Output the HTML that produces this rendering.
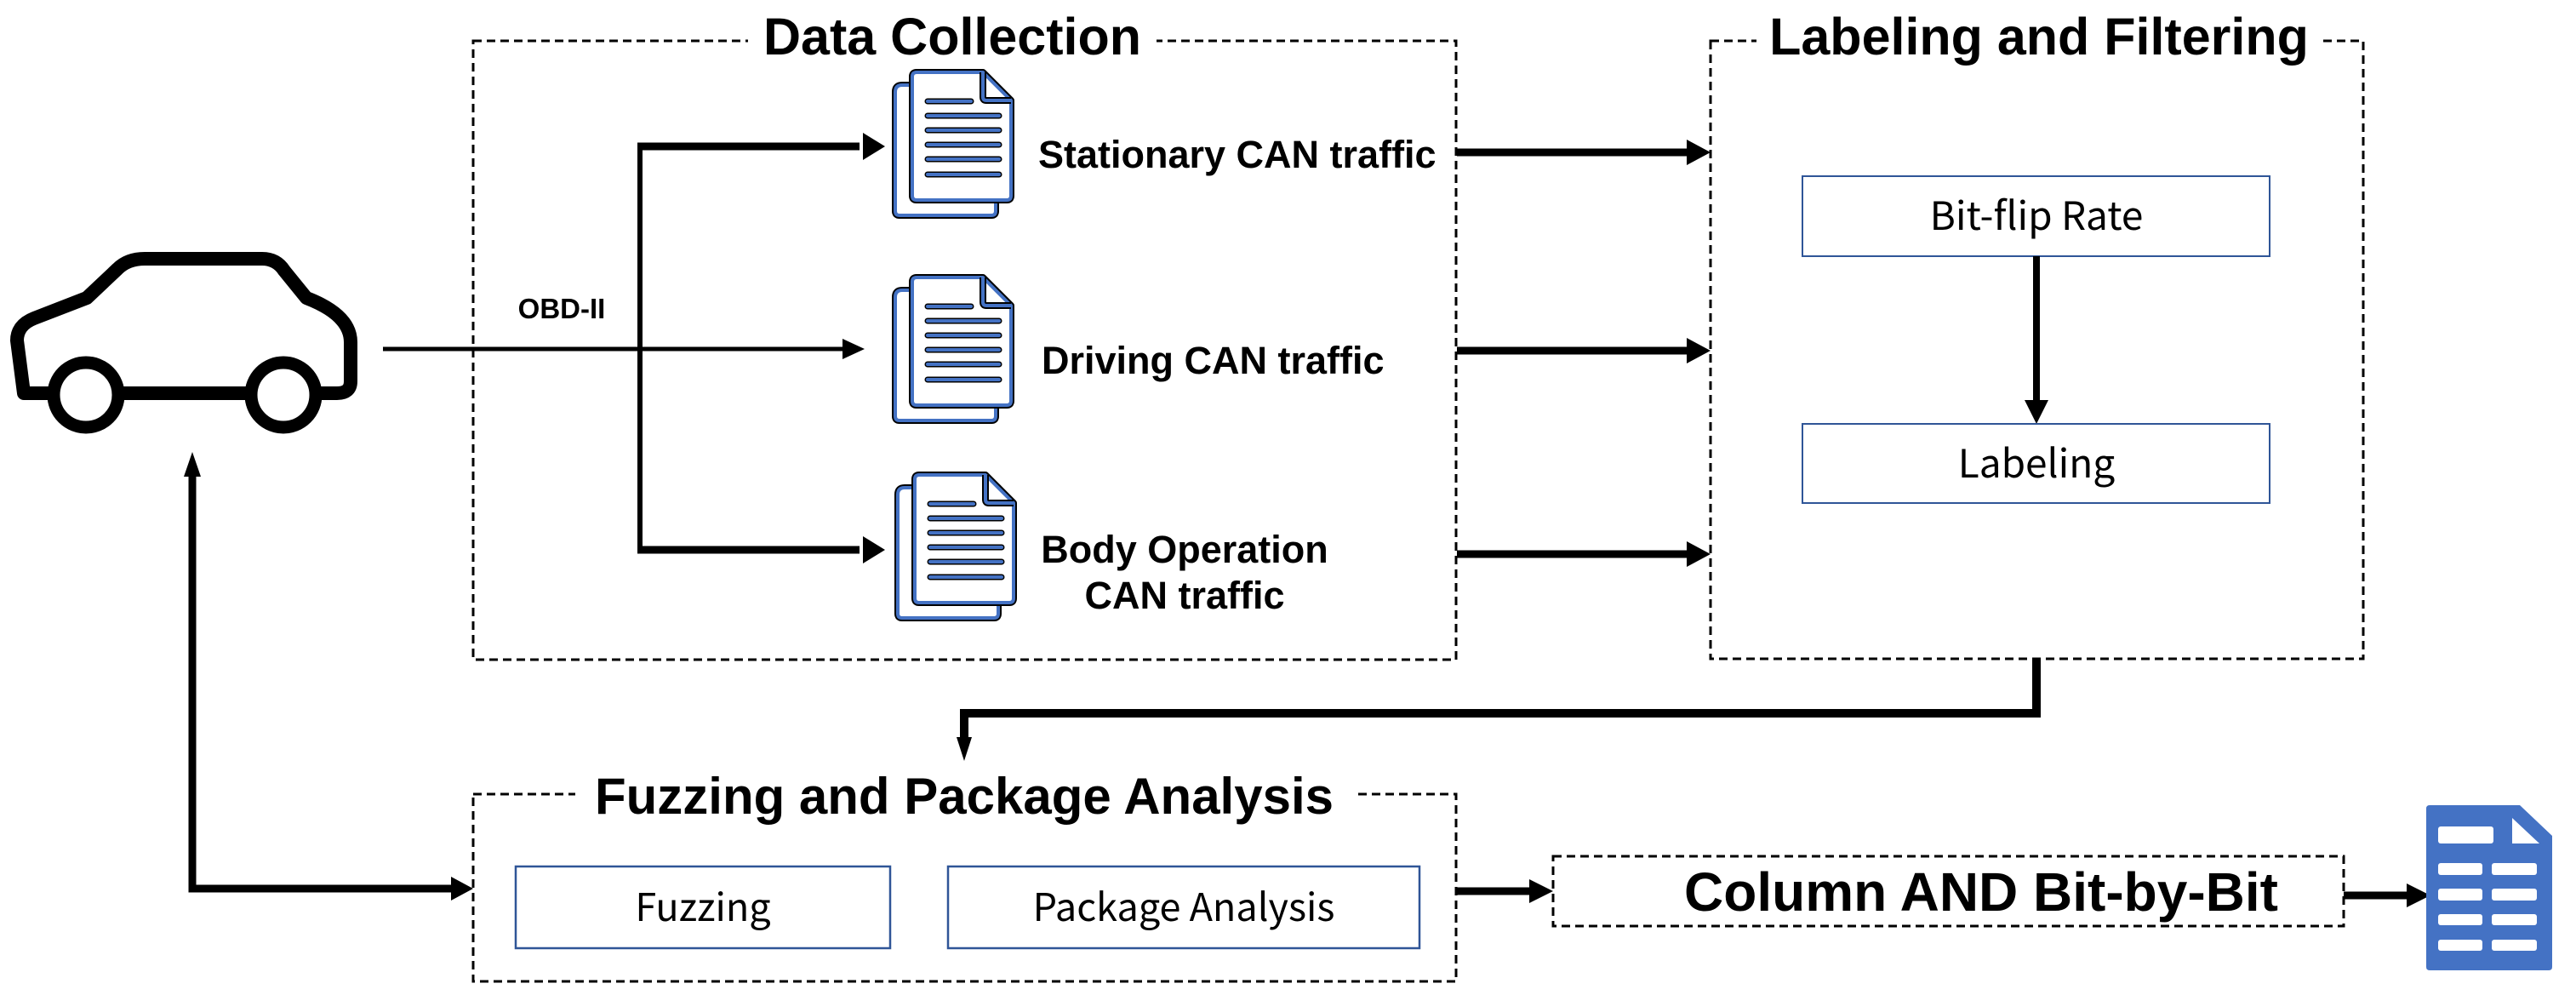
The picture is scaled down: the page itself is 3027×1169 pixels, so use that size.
<!DOCTYPE html>
<html><head><meta charset="utf-8"><style>
html,body{margin:0;padding:0;background:#fff;}
svg{display:block;}
.t{font-family:"Liberation Sans",Arial,sans-serif;font-weight:bold;fill:#000;}
.c{font-family:"Noto Sans CJK SC","Liberation Sans",sans-serif;fill:#000;}
</style></head><body>
<svg width="3027" height="1169" viewBox="0 0 3027 1169" xmlns="http://www.w3.org/2000/svg">
<defs>
<g id="doc">
  <path d="M12 28 Q12 20 20 20 L130 20 L130 168 Q130 173 125 173 L17 173 Q12 173 12 168 Z" fill="#fff" stroke="#000" stroke-width="8" stroke-linejoin="round"/>
  <path d="M12 28 Q12 20 20 20 L130 20 L130 168 Q130 173 125 173 L17 173 Q12 173 12 168 Z" fill="#fff" stroke="#4472c4" stroke-width="4" stroke-linejoin="round"/>
  <path d="M32 10 Q32 5 37 5 L115 5 L148 38 L148 150 Q148 155 143 155 L37 155 Q32 155 32 150 Z" fill="#fff" stroke="#000" stroke-width="8" stroke-linejoin="round"/>
  <path d="M32 10 Q32 5 37 5 L115 5 L148 38 L148 150 Q148 155 143 155 L37 155 Q32 155 32 150 Z" fill="#fff" stroke="#4472c4" stroke-width="4" stroke-linejoin="round"/>
  <path d="M115 5 L115 34 Q115 38 119 38 L148 38" fill="none" stroke="#000" stroke-width="8" stroke-linejoin="round"/>
  <path d="M115 5 L115 34 Q115 38 119 38 L148 38" fill="none" stroke="#4472c4" stroke-width="4" stroke-linejoin="round"/>
  <g stroke="#000" stroke-width="7" stroke-linecap="round">
    <line x1="50" y1="39" x2="101" y2="39"/><line x1="50" y1="56" x2="134" y2="56"/><line x1="50" y1="73" x2="134" y2="73"/><line x1="50" y1="90" x2="134" y2="90"/><line x1="50" y1="107" x2="134" y2="107"/><line x1="50" y1="125" x2="134" y2="125"/>
  </g>
  <g stroke="#4472c4" stroke-width="4" stroke-linecap="round">
    <line x1="50" y1="39" x2="101" y2="39"/><line x1="50" y1="56" x2="134" y2="56"/><line x1="50" y1="73" x2="134" y2="73"/><line x1="50" y1="90" x2="134" y2="90"/><line x1="50" y1="107" x2="134" y2="107"/><line x1="50" y1="125" x2="134" y2="125"/>
  </g>
</g>
</defs>

<!-- Car -->
<path d="M28 462 L20 400 Q20 382 40 374 L102 350 L138 316 Q150 304 170 304 L308 304 Q325 304 334 318 L360 350 Q412 370 412 402 L412 448 Q412 462 396 462 Z" fill="#fff" stroke="#000" stroke-width="16" stroke-linejoin="round"/>
<circle cx="101" cy="464" r="38" fill="#fff" stroke="#000" stroke-width="15"/>
<circle cx="333" cy="464" r="38" fill="#fff" stroke="#000" stroke-width="15"/>

<!-- Data Collection box -->
<rect x="556" y="48" width="1155" height="727" fill="none" stroke="#000" stroke-width="3" stroke-dasharray="10,6"/>
<rect x="879" y="15" width="480" height="60" fill="#fff"/>
<text class="t" x="1119" y="64" font-size="61" text-anchor="middle">Data Collection</text>

<!-- OBD lines -->
<text class="t" x="660" y="374" font-size="33" text-anchor="middle">OBD-II</text>
<line x1="450" y1="410" x2="1010" y2="410" stroke="#000" stroke-width="5"/>
<polygon points="1016,410 990,398 990,422" fill="#000"/>
<line x1="752" y1="172" x2="752" y2="646" stroke="#000" stroke-width="6"/>
<line x1="749" y1="172" x2="1010" y2="172" stroke="#000" stroke-width="9"/>
<polygon points="1040,172 1014,156 1014,188" fill="#000"/>
<line x1="749" y1="646" x2="1010" y2="646" stroke="#000" stroke-width="9"/>
<polygon points="1040,646 1014,630 1014,662" fill="#000"/>

<use href="#doc" x="1040" y="80"/>
<use href="#doc" x="1040" y="321"/>
<use href="#doc" x="1043" y="553"/>

<text class="t" x="1220" y="197" font-size="45">Stationary CAN traffic</text>
<text class="t" x="1224" y="439" font-size="45">Driving CAN traffic</text>
<text class="t" x="1392" y="661" font-size="45" text-anchor="middle">Body Operation</text>
<text class="t" x="1392" y="715" font-size="45" text-anchor="middle">CAN traffic</text>

<!-- DC -> LF arrows -->
<line x1="1712" y1="179" x2="1985" y2="179" stroke="#000" stroke-width="9"/>
<polygon points="2010,179 1982,164 1982,194" fill="#000"/>
<line x1="1712" y1="412" x2="1985" y2="412" stroke="#000" stroke-width="9"/>
<polygon points="2010,412 1982,397 1982,427" fill="#000"/>
<line x1="1712" y1="651" x2="1985" y2="651" stroke="#000" stroke-width="9"/>
<polygon points="2010,651 1982,636 1982,666" fill="#000"/>

<!-- Labeling and Filtering -->
<rect x="2010" y="48" width="767" height="726" fill="none" stroke="#000" stroke-width="3" stroke-dasharray="10,6"/>
<rect x="2064" y="10" width="664" height="62" fill="#fff"/>
<text class="t" x="2396" y="64" font-size="61" text-anchor="middle">Labeling and Filtering</text>
<rect x="2118" y="207" width="549" height="94" fill="#fff" stroke="#2f5597" stroke-width="2"/>
<text class="c" x="2393" y="270" font-size="46" text-anchor="middle">Bit-flip Rate</text>
<line x1="2393" y1="301" x2="2393" y2="474" stroke="#000" stroke-width="8"/>
<polygon points="2393,498 2379,470 2407,470" fill="#000"/>
<rect x="2118" y="498" width="549" height="93" fill="#fff" stroke="#2f5597" stroke-width="2"/>
<text class="c" x="2393" y="561" font-size="46" text-anchor="middle">Labeling</text>

<!-- LF -> Fuzz connector -->
<polyline points="2393,774 2393,838 1133,838 1133,870" fill="none" stroke="#000" stroke-width="10"/>
<polygon points="1133,894 1124,866 1142,866" fill="#000"/>

<!-- Fuzzing box -->
<rect x="556" y="933" width="1155" height="220" fill="none" stroke="#000" stroke-width="3" stroke-dasharray="10,6"/>
<rect x="676" y="905" width="914" height="60" fill="#fff"/>
<text class="t" x="1133" y="956" font-size="60" text-anchor="middle">Fuzzing and Package Analysis</text>
<rect x="606" y="1018" width="440" height="96" fill="#fff" stroke="#2f5597" stroke-width="2.5"/>
<text class="c" x="826" y="1082" font-size="45" text-anchor="middle">Fuzzing</text>
<rect x="1114" y="1018" width="554" height="96" fill="#fff" stroke="#2f5597" stroke-width="2.5"/>
<text class="c" x="1391" y="1082" font-size="45" text-anchor="middle">Package Analysis</text>

<!-- feedback arrow to car -->
<polyline points="226,560 226,1044 530,1044" fill="none" stroke="#000" stroke-width="9"/>
<polygon points="226,531 216,560 236,560" fill="#000"/>
<polygon points="556,1044 530,1030 530,1058" fill="#000"/>

<!-- Fuzz -> Column -->
<line x1="1712" y1="1047" x2="1801" y2="1047" stroke="#000" stroke-width="9"/>
<polygon points="1825,1047 1797,1033 1797,1061" fill="#000"/>
<rect x="1825" y="1006" width="929" height="82" fill="none" stroke="#000" stroke-width="3" stroke-dasharray="10,6"/>
<text class="t" x="2328" y="1070" font-size="64" text-anchor="middle">Column AND Bit-by-Bit</text>
<line x1="2754" y1="1052" x2="2832" y2="1052" stroke="#000" stroke-width="9"/>
<polygon points="2856,1052 2828,1038 2828,1066" fill="#000"/>

<!-- table doc icon -->
<g transform="translate(2840,940)">
  <path d="M15 6 L121 6 L159 42 L159 196 Q159 200 155 200 L15 200 Q11 200 11 196 L11 10 Q11 6 15 6 Z" fill="#4472c4"/>
  <polygon points="112,21 144,51 112,51" fill="#fff"/>
  <g fill="#fff">
    <rect x="25" y="31" width="65" height="20" rx="3"/>
    <rect x="25" y="74" width="52" height="14" rx="3"/><rect x="88" y="74" width="53" height="14" rx="3"/>
    <rect x="25" y="104" width="52" height="14" rx="3"/><rect x="88" y="104" width="53" height="14" rx="3"/>
    <rect x="25" y="134" width="52" height="13" rx="3"/><rect x="88" y="134" width="53" height="13" rx="3"/>
    <rect x="25" y="164" width="52" height="13" rx="3"/><rect x="88" y="164" width="53" height="13" rx="3"/>
  </g>
</g>
</svg>
</body></html>
